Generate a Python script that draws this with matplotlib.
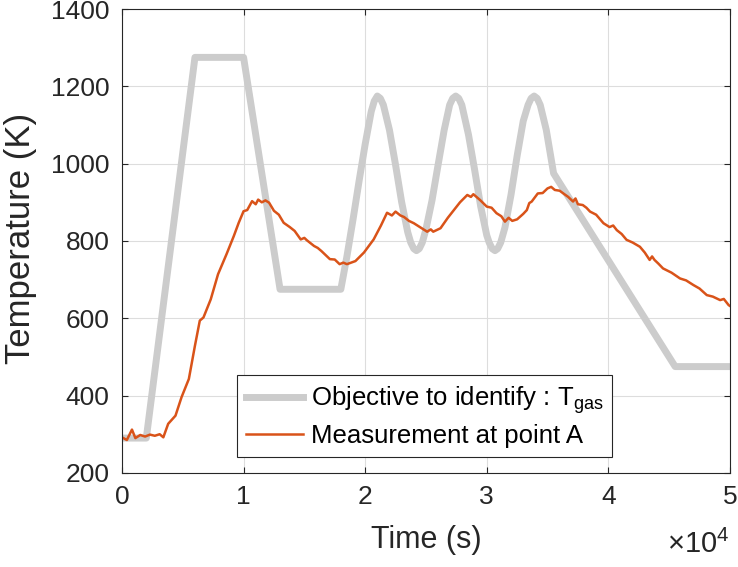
import numpy as np
import matplotlib
matplotlib.use('Agg')
import matplotlib.pyplot as plt

plt.rcParams['font.family'] = ['Liberation Sans', 'DejaVu Sans']
plt.rcParams['mathtext.fontset'] = 'custom'
plt.rcParams['mathtext.rm'] = 'Liberation Sans'
plt.rcParams['mathtext.it'] = 'Liberation Sans'

# objective gas temperature (time in 1e3 s, temperature in K)
t_gas = [0, 2.0, 6.0, 10.0, 13.0, 18.0, 18.5, 19.0, 19.5, 20.0, 20.5, 20.75, 21.0, 21.25,
         21.5, 22.0, 22.5, 23.0, 23.5, 23.75, 24.0, 24.22, 24.45, 24.7, 25.0, 25.5, 26.0,
         26.5, 26.95, 27.2, 27.45, 27.7, 27.95, 28.5, 29.0, 29.5, 30.0, 30.2, 30.45, 30.68,
         30.9, 31.15, 31.5, 32.0, 32.5, 33.0, 33.4, 33.65, 33.9, 34.15, 34.4, 34.9, 35.5,
         45.5, 50.0]
T_gas = [290, 290, 1275, 1275, 675, 675, 760, 855, 955, 1050, 1135, 1162, 1175, 1169,
         1152, 1087, 997, 901, 823, 796, 780, 775, 780, 796, 830, 905, 997,
         1087, 1152, 1169, 1175, 1169, 1152, 1075, 985, 890, 815, 796, 780, 775,
         780, 796, 835, 920, 1020, 1110, 1152, 1169, 1175, 1169, 1152, 1087, 975,
         475, 475]

# measured temperature at point A
t_meas = [0, 0.4, 0.82, 1.1, 1.5, 1.9, 2.3, 2.7, 3.1, 3.4, 3.8, 4.4, 4.9, 5.5, 6.0, 6.4,
          6.7, 7.3, 7.9, 8.6, 9.2, 9.6, 10.0, 10.3, 10.7, 11.0, 11.2, 11.5, 11.8, 12.1,
          12.5, 12.9, 13.3, 13.8, 14.2, 14.7, 15.0, 15.2, 15.8, 16.1, 16.4, 17.1, 17.5,
          17.9, 18.2, 18.5, 19.2, 19.9, 20.7, 21.3, 21.8, 22.2, 22.5, 22.9, 23.2, 23.6,
          24.0, 24.5, 25.1, 25.4, 25.6, 26.2, 26.8, 27.3, 27.8, 28.4, 28.7, 28.9, 29.45,
          30.0, 30.4, 30.8, 31.2, 31.5, 31.8, 32.1, 32.5, 33.0, 33.3, 33.5, 33.7, 34.2,
          34.6, 35.0, 35.3, 35.6, 36.0, 36.3, 36.7, 37.1, 37.3, 37.5, 37.9, 38.2, 38.5,
          39.0, 39.6, 40.1, 40.4, 40.7, 41.1, 41.5, 42.0, 42.6, 43.0, 43.4, 43.6, 43.8,
          44.1, 44.5, 45.2, 45.9, 46.4, 47.0, 47.5, 48.1, 48.6, 49.2, 49.5, 49.9, 50.0]
T_meas = [292, 285, 312, 290, 298, 294, 299, 296, 300, 292, 327, 348, 396, 443, 529, 594,
          602, 649, 714, 766, 813, 847, 877, 880, 903, 895, 907, 900, 905, 899,
          878, 868, 847, 836, 826, 804, 808, 802, 787, 782, 774, 753, 752,
          740, 744, 740, 748, 770, 804, 840, 873, 866, 876, 866, 862, 852,
          846, 836, 824, 830, 824, 833, 860, 880, 900, 919, 914, 921, 906,
          889, 886, 872, 864, 850, 860, 852, 856, 870, 880, 898, 902, 923,
          924, 936, 940, 932, 930, 923, 914, 902, 910, 895, 893, 886, 876,
          868, 846, 836, 840, 828, 818, 803, 796, 785, 770, 751, 760, 751,
          742, 729, 718, 703, 698, 686, 677, 660, 656, 647, 650, 634, 632]

t_gas = np.array(t_gas) * 1e3
t_meas = np.array(t_meas) * 1e3

fig = plt.figure(figsize=(7.38, 5.67), dpi=100)
ax = fig.add_axes([0.1653, 0.166, 0.8237, 0.818])

ax.plot(t_gas, T_gas, color='#cccccc', lw=5, solid_joinstyle='round',
        label='Objective to identify : T$_{\\mathrm{gas}}$')
ax.plot(t_meas, T_meas, color='#D95319', lw=1.8,
        label='Measurement at point A')

ax.set_xlim(0, 5e4)
ax.set_ylim(200, 1400)
ax.set_xticks([0, 1e4, 2e4, 3e4, 4e4, 5e4])
ax.set_xticklabels(['0', '1', '2', '3', '4', '5'])
ax.set_yticks(range(200, 1401, 200))
ax.grid(True, color='#dddddd', lw=0.8)
ax.set_axisbelow(True)
ax.tick_params(direction='in', length=4, width=0.8, top=True, right=True,
               labelsize=19, colors='#262626', pad=9)
for s in ax.spines.values():
    s.set_color('#262626')
    s.set_linewidth(0.8)

ax.set_xlabel('Time (s)', fontsize=22, color='#262626')
ax.set_ylabel('Temperature (K)', fontsize=25, color='#262626')
ax.xaxis.set_label_coords(0.5, -0.112)
ax.yaxis.set_label_coords(-0.14, 0.505)
ax.text(1.0, -0.172, '$\\times10^{4}$', transform=ax.transAxes, ha='right',
        va='baseline', fontsize=21, color='#262626')

leg = ax.legend(loc='lower left', bbox_to_anchor=(0.19, 0.035), fontsize=18.5,
                frameon=True, fancybox=False, handlelength=2.2, borderpad=0.35,
                labelspacing=0.3, handletextpad=0.3, borderaxespad=0)
leg.get_frame().set_edgecolor('#262626')
leg.get_frame().set_linewidth(0.8)
leg.get_frame().set_alpha(1)

fig.savefig('out.png', dpi=100)
